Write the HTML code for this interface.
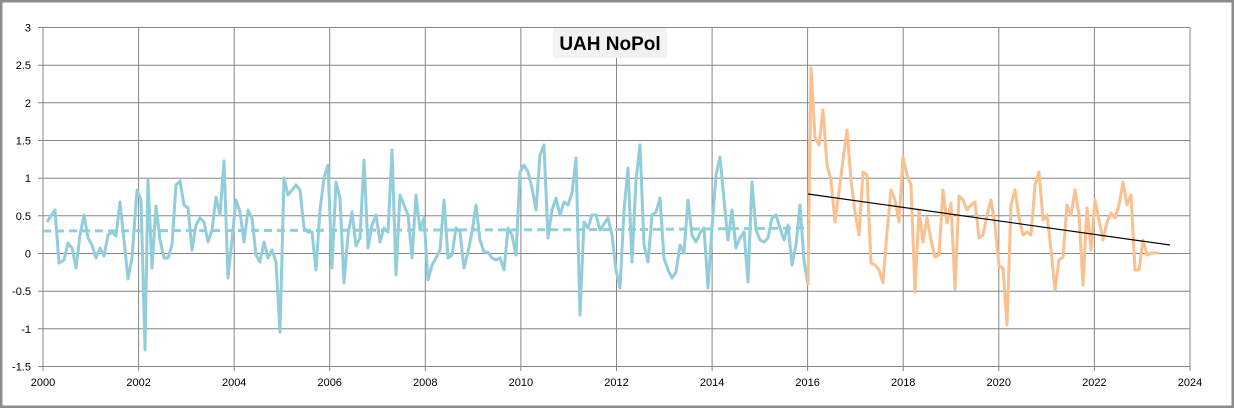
<!DOCTYPE html><html><head><style>body{margin:0;background:#fff}svg{display:block}text{font-family:"Liberation Sans",sans-serif;font-size:11px;fill:#000}</style></head><body>
<svg id="s" width="1234" height="408" xmlns="http://www.w3.org/2000/svg">
<rect x="1" y="1" width="1232" height="406" fill="#fff" stroke="#8c8c8c" stroke-width="3"/>
<g id="g" stroke="#868686" stroke-width="1"></g>
<g id="t"></g>
<rect x="553" y="28" width="114" height="30" fill="#f2f2f2"/>
<text x="610" y="50" text-anchor="middle" style="font-size:19px;font-weight:bold">UAH NoPol</text>
<line x1="43" y1="231" x2="640" y2="229.5" stroke="#92cddc" stroke-width="3" stroke-dasharray="8,5"/>
<line x1="640" y1="229.5" x2="808" y2="228" stroke="#92cddc" stroke-width="3" stroke-dasharray="8,5"/>
<polyline id="b" fill="none" stroke="#92cddc" stroke-width="3" stroke-linejoin="round"/>
<polyline id="o" fill="none" stroke="#fac090" stroke-width="3" stroke-linejoin="round"/>
<line x1="808" y1="194" x2="1170" y2="245" stroke="#000" stroke-width="1.2"/>
</svg>
<script>
var g=document.getElementById('g'),t=document.getElementById('t'),NS='http://www.w3.org/2000/svg',h='';
function y(v){return 253.5-v*75.33}
for(var i=0;i<=9;i++){var v=3-i*0.5,yy=y(v).toFixed(1);h+='<line x1="38" y1="'+yy+'" x2="1190" y2="'+yy+'"/>';
t.innerHTML+='<text x="31" y="'+(+yy+4)+'" text-anchor="end">'+v+'</text>';}
for(var k=0;k<=12;k++){var x=(43+k*95.58).toFixed(1);h+='<line x1="'+x+'" y1="27.5" x2="'+x+'" y2="371"/>';
t.innerHTML+='<text x="'+x+'" y="386" text-anchor="middle">'+(2000+2*k)+'</text>';}
g.innerHTML=h;
var B=[47,222,55,210,59,263,64,260,68,243,72,248,76,268,80,235,84,215,88,238,92,245,96,258,100,248,104,256,108,235,112,232,116,236,120,202,124,240,128,279,132,258,137,190,141,200,145,350,148,180,152,268,156,206,160,240,164,258,168,258,172,245,176,185,180,181,184,205,188,208,192,250,196,225,200,218,204,222,208,242,212,230,216,197,220,215,224,161,228,278,232,240,236,200,240,212,244,242,248,210,252,218,256,255,260,262,264,242,268,258,272,250,276,262,280,332,284,178,288,195,292,190,296,185,300,190,304,228,308,232,312,232,316,270,320,210,324,178,328,165,332,268,336,182,340,198,344,283,348,235,352,212,356,246,360,238,364,160,368,248,372,225,376,215,380,242,384,228,388,232,392,150,396,275,400,195,404,205,408,215,412,258,416,195,420,230,424,218,428,280,432,265,436,258,440,250,444,200,448,258,452,255,456,228,460,232,464,268,468,252,472,232,476,205,480,240,484,252,488,252,492,258,496,260,500,258,504,270,508,228,512,235,516,255,520,172,524,165,528,172,532,188,536,210,540,155,544,145,548,238,552,210,556,198,560,215,564,202,568,205,572,193,576,158,580,315,584,222,588,228,592,215,596,215,600,230,604,224,608,218,612,235,616,270,620,288,624,210,628,168,632,262,636,180,640,145,644,245,648,262,652,215,656,212,660,198,664,258,668,270,672,278,676,272,680,245,684,253,688,200,692,235,696,242,700,233,704,228,708,288,712,228,716,175,720,157,724,200,728,240,732,210,736,248,740,238,744,232,748,282,752,182,756,230,760,240,764,242,768,238,772,218,776,215,780,228,784,240,788,225,792,265,796,245,800,205,804,260,808,285];
var O=[808,285,811,68,815,138,819,145,823,110,827,165,831,180,835,222,839,192,843,160,847,130,851,180,855,212,859,235,863,172,867,175,871,263,875,265,879,270,883,283,887,232,891,190,895,200,899,222,903,157,907,175,911,185,915,292,919,210,923,242,927,218,931,240,935,257,939,255,943,190,947,223,951,203,955,289,959,196,963,200,967,210,971,205,975,202,979,238,983,235,987,215,991,200,995,225,999,266,1003,268,1007,325,1011,205,1015,190,1019,218,1023,235,1027,232,1031,235,1035,185,1039,172,1043,220,1047,215,1051,250,1055,290,1059,260,1063,257,1067,205,1071,215,1075,190,1079,215,1083,285,1087,208,1091,250,1095,200,1099,220,1103,240,1107,222,1111,213,1115,218,1119,205,1123,182,1127,205,1131,195,1135,270,1139,270,1143,240,1147,255,1151,253,1155,253,1159,253];
document.getElementById('b').setAttribute('points',B.join(' '));
document.getElementById('o').setAttribute('points',O.join(' '));
</script></body></html>
